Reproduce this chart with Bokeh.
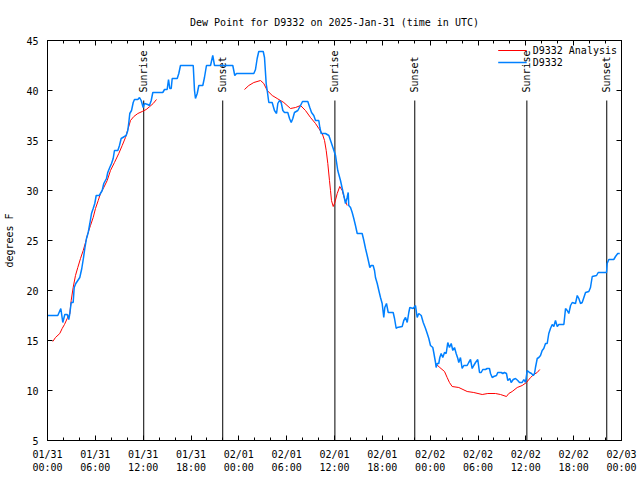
import math
from bokeh.plotting import figure
from bokeh.models import Range1d, FixedTicker, LinearAxis, Legend, LegendItem, CustomJSTickFormatter
from bokeh.core.properties import value
from bokeh.embed import file_html
from bokeh.resources import INLINE

NAN = float("nan")

# ---- data (hours since 2025-01-31 00:00 UTC) ----
obs_hours = [0.00, 1.29, 1.67, 1.92, 2.17, 2.47, 2.67, 2.80, 2.97, 3.22, 3.35, 3.55, 3.80, 4.05, 4.30,
             4.52, 4.68, 4.89, 5.11, 5.31, 5.52, 5.73, 5.93, 6.11, 6.49, 6.86, 7.06, 7.40, 7.56, 7.81,
             8.03, 8.24, 8.40, 8.82, 9.03, 9.24, 9.66, 9.87, 10.07, 10.20, 10.32, 10.54, 10.75, 10.91,
             11.33, 11.54, 11.75, 12.00, 12.17, 12.58, 12.79, 13.01, 13.21, 14.46, 14.68, 15.01, 15.18,
             15.34, 15.52, 15.64, 16.27, 16.47, 16.68, 18.28, 18.44, 18.56, 18.78, 18.98, 19.48, 19.69,
             19.94, 20.45, 20.73, 20.95, 23.24, 23.49, 23.71, 25.88, 26.09, 26.30, 26.50, 27.06, 27.22,
             27.43, 27.56, 27.76, 28.18, 28.47, 28.73, 28.89, 29.10, 29.31, 29.52, 29.73, 30.14, 30.36,
             30.57, 30.77, 30.98, 31.40, 31.74, 31.99, 32.65, 32.90, 33.12, 33.40, 33.62, 34.03, 34.16,
             34.33, 34.87, 35.29, 35.59, 35.84, 36.13, 36.41, 36.75, 36.97, 37.25, 37.38, 37.59, 37.72,
             37.79, 38.01, 38.22, 38.42, 38.63, 38.85, 39.47, 39.68, 39.89, 40.10, 40.30, 40.43, 40.60,
             40.85, 41.02, 41.14, 41.36, 41.56, 41.77, 41.98, 42.18, 42.31, 42.52, 42.74, 43.36, 43.53,
             43.74, 43.86, 44.49, 44.69, 44.91, 45.12, 45.32, 45.45, 45.87, 46.16, 46.37, 46.57, 46.88,
             47.13, 47.42, 47.63, 47.83, 48.04, 48.33, 48.45, 48.67, 48.75, 48.88, 49.08, 49.21, 49.38,
             49.58, 49.80, 50.01, 50.21, 50.42, 50.64, 50.84, 51.05, 51.26, 51.47, 51.59, 51.80, 52.01,
             52.22, 52.64, 52.84, 53.06, 53.27, 53.47, 53.69, 53.97, 54.19, 54.40, 54.60, 54.94, 55.15,
             55.44, 55.57, 55.78, 55.98, 56.32, 56.48, 56.91, 57.11, 57.32, 57.57, 57.74, 57.99, 58.16,
             58.42, 58.70, 58.99, 59.21, 59.54, 59.75, 59.96, 60.17, 60.46, 60.71, 60.93, 61.09, 61.21,
             61.43, 61.63, 61.84, 62.05, 62.25, 62.47, 62.68, 62.88, 63.09, 63.31, 63.51, 63.72, 63.94,
             64.14, 64.77, 64.98, 65.19, 65.39, 65.61, 65.82, 66.23, 66.45, 66.65, 66.86, 67.07, 67.28,
             67.49, 67.90, 68.11, 68.33, 68.87, 69.08, 70.12, 70.20, 70.41, 71.03, 71.25, 71.53, 71.78]
obs_dewpt = [17.5, 17.5, 18.2, 16.8, 17.6, 17.6, 17.1, 17.7, 18.8, 18.8, 20.3, 20.7, 21.0, 21.3, 22.2,
             23.3, 24.2, 25.2, 25.8, 26.7, 27.7, 28.2, 28.7, 29.5, 29.5, 30.0, 30.7, 31.2, 31.8, 32.3,
             32.7, 33.2, 34.0, 34.0, 34.5, 35.2, 35.4, 35.5, 36.0, 36.8, 37.7, 38.0, 38.8, 39.1,
             39.1, 39.3, 39.0, 38.3, 38.7, 38.6, 38.5, 39.0, 39.8, 39.8, 40.1, 40.1, 41.1,
             40.2, 40.2, 41.2, 41.2, 41.7, 42.5, 42.5, 40.0, 39.2, 39.7, 40.5, 40.5, 41.3,
             42.5, 42.5, 43.5, 42.5, 42.5, 41.5, 41.7, 41.7, 42.1, 43.2, 43.9, 43.9, 43.3,
             40.7, 40.0, 38.8, 38.8, 38.0, 37.7, 38.7, 39.0, 38.8, 38.0, 37.8, 37.8, 37.2,
             36.8, 37.2, 37.8, 38.0, 38.5, 38.9, 38.9, 38.3, 37.8, 37.5, 37.0, 37.0, 36.3,
             35.7, 35.7, 35.5, 34.8, 34.2, 33.5, 32.0, 31.0, 30.2, 29.2, 28.7, 29.3, 29.8,
             28.5, 28.3, 27.8, 27.2, 26.5, 25.7, 25.7, 25.0, 24.2, 23.5, 22.8, 22.3, 22.5,
             22.5, 22.0, 21.3, 20.7, 20.0, 19.3, 18.7, 17.3, 18.3, 18.7, 17.8, 17.8, 17.2,
             16.2, 16.3, 16.4, 17.0, 17.3, 16.8, 17.8, 18.3, 18.2, 18.5, 17.3, 17.7, 17.5,
             16.8, 16.2, 15.7, 15.2, 14.5, 14.3, 13.8, 12.8, 12.3, 12.7, 12.7, 13.3, 13.7,
             13.3, 13.8, 13.7, 14.8, 14.3, 14.7, 14.0, 14.3, 13.7, 13.2, 12.8, 13.3, 12.2,
             12.5, 12.5, 12.8, 13.1, 12.2, 12.5, 12.8, 13.1, 11.8, 11.8, 12.1, 12.1, 12.2,
             12.2, 11.7, 11.3, 11.4, 11.5, 11.8, 11.8, 11.7, 11.8, 11.7, 11.0, 11.2, 10.8,
             11.1, 11.2, 11.0, 10.8, 10.8, 11.1, 10.8, 12.0, 11.8, 11.7, 11.5, 11.7, 12.3,
             13.2, 13.3, 13.5, 14.0, 14.2, 14.7, 14.7, 15.7, 16.2, 16.6, 16.4, 17.0, 16.4,
             16.6, 16.6, 18.2, 18.0, 17.7, 18.5, 18.8, 18.7, 19.5, 19.2, 18.7, 18.8, 19.3,
             19.8, 19.9, 20.3, 21.4, 21.5, 21.8, 21.8, 22.7, 23.1, 23.1, 23.4, 23.7, 23.7]

ana_hours = [0.66, 1.00, 1.54, 1.84, 2.13, 2.47, 2.67, 2.80, 2.97, 3.22, 3.51, 3.80, 4.14, 4.48, 4.77,
             5.06, 5.39, 5.73, 6.02, 6.36, 6.65, 7.06, 7.49, 7.90, 8.40, 8.94, 9.37, 9.78, 10.12, 10.41,
             10.83, 11.33, 11.88, 12.38, 12.83, 13.26, 13.67, NAN,
             24.71, 25.25, 25.88, 26.72, 27.13, 27.56, 28.19, 28.81, 29.64, 30.48, 31.11, 31.74, 32.36,
             32.99, 33.62, 34.03, 34.46, 34.75, 34.96, 35.16, 35.37, 35.50, 35.62, 35.84, 36.04, 36.34,
             36.66, 36.97, 37.25, 37.59, NAN,
             48.67, 49.21, 49.80, 50.13, 50.42, 50.76, 51.59, 52.64, 53.47, 54.53, 55.23, 56.19, 56.82,
             57.57, 57.86, 58.29, 58.92, 59.54, 60.08, 60.59, 61.00, 61.43, 61.75]
ana_dewpt = [14.9, 15.3, 15.7, 16.2, 16.6, 17.2, 17.5, 17.7, 19.0, 20.3, 21.5, 22.3, 23.2, 24.0, 24.8,
             25.7, 26.5, 27.3, 28.2, 29.0, 29.7, 30.3, 31.0, 32.0, 32.8, 33.7, 34.5, 35.3, 36.2, 37.0,
             37.4, 37.7, 37.9, 38.1, 38.4, 38.7, 39.1, NAN,
             40.1, 40.5, 40.8, 41.0, 40.7, 40.0, 39.5, 39.2, 38.8, 38.2, 38.3, 38.5, 38.0,
             37.3, 36.7, 36.2, 35.7, 35.0, 34.0, 32.7, 31.0, 30.0, 29.0, 28.4, 28.8, 29.7,
             30.4, 30.0, 29.2, 28.5, NAN,
             12.7, 12.3, 11.9, 11.3, 10.8, 10.4, 10.3, 9.9, 9.8, 9.6, 9.7, 9.7, 9.6,
             9.4, 9.7, 9.9, 10.3, 10.5, 10.8, 11.3, 11.6, 11.8, 12.1]

sun_hours = [12.07, 21.98, 36.05, 46.07, 60.13, 70.15]
sun_labels = ["Sunrise", "Sunset", "Sunrise", "Sunset", "Sunrise", "Sunset"]

x_tick_hours = [0, 6, 12, 18, 24, 30, 36, 42, 48, 54, 60, 66, 72]
x_tick_labels = ["01/31\n00:00", "01/31\n06:00", "01/31\n12:00", "01/31\n18:00",
                 "02/01\n00:00", "02/01\n06:00", "02/01\n12:00", "02/01\n18:00",
                 "02/02\n00:00", "02/02\n06:00", "02/02\n12:00", "02/02\n18:00",
                 "02/03\n00:00"]
x_minor_hours = list(range(0, 73, 2))
y_ticks = [5, 10, 15, 20, 25, 30, 35, 40, 45]

FONT = "DejaVu Sans Mono"
FS = "10px"
Y0, Y1 = 5, 45
line_top = Y0 + 0.85 * (Y1 - Y0)
label_base = Y0 + 0.87 * (Y1 - Y0)

p = figure(width=640, height=480, output_backend="svg", toolbar_location=None,
           x_range=Range1d(0, 72), y_range=Range1d(Y0, Y1),
           min_border_left=47, min_border_right=19, min_border_top=40, min_border_bottom=40,
           title="Dew Point for D9332 on 2025-Jan-31 (time in UTC)")
p.background_fill_color = "white"
p.border_fill_color = "white"
p.outline_line_color = "black"
p.outline_line_width = 1
p.outline_line_alpha = 1
p.grid.visible = False

p.title.align = "center"
p.title.text_font = FONT
p.title.text_font_size = FS
p.title.text_font_style = "normal"
p.title.text_color = "black"
p.title.standoff = 26

xt = FixedTicker(ticks=x_tick_hours, minor_ticks=x_minor_hours)
yt = FixedTicker(ticks=y_ticks, minor_ticks=[])

def style_axis(ax, show_labels):
    ax.axis_line_color = "black"
    ax.major_tick_line_color = "black"
    ax.minor_tick_line_color = "black"
    ax.major_tick_in = 5
    ax.major_tick_out = 0
    ax.minor_tick_in = 3
    ax.minor_tick_out = 0
    ax.major_label_text_font = FONT
    ax.major_label_text_color = "black"
    ax.major_label_text_font_size = FS
    if not show_labels:
        ax.formatter = CustomJSTickFormatter(code="return '';")
        ax.major_label_standoff = 0

p.xaxis.ticker = xt
p.xaxis.major_label_overrides = {h: lab for h, lab in zip(x_tick_hours, x_tick_labels)}
style_axis(p.xaxis[0], True)
p.xaxis.major_label_standoff = 8

p.yaxis.ticker = yt
style_axis(p.yaxis[0], True)
p.yaxis.major_label_standoff = 9
p.yaxis.axis_label = "degrees F"
p.yaxis.axis_label_text_font = FONT
p.yaxis.axis_label_text_font_size = FS
p.yaxis.axis_label_text_font_style = "normal"
p.yaxis.axis_label_text_color = "black"
p.yaxis.axis_label_standoff = 8

top_ax = LinearAxis(ticker=xt)
style_axis(top_ax, False)
p.add_layout(top_ax, "above")
right_ax = LinearAxis(ticker=yt)
style_axis(right_ax, False)
p.add_layout(right_ax, "right")

# sunrise / sunset markers
n = len(sun_hours)
p.segment(x0=sun_hours, y0=[Y0] * n, x1=sun_hours, y1=[line_top] * n,
          line_color="black", line_width=1)
p.text(x=sun_hours, y=[label_base] * n, text=sun_labels, angle=math.pi / 2,
       text_align="left", text_baseline="middle", text_font=value(FONT),
       text_font_size=FS, text_color="black")

r_ana = p.line(ana_hours, ana_dewpt, line_color="#ff0000", line_width=1)
r_obs = p.line(obs_hours, obs_dewpt, line_color="#0080ff", line_width=1.5)

legend = Legend(items=[LegendItem(label="D9332 Analysis", renderers=[r_ana]),
                       LegendItem(label="D9332", renderers=[r_obs])],
                location="top_right")
legend.border_line_alpha = 0
legend.background_fill_alpha = 0
legend.label_text_font = FONT
legend.label_text_font_size = FS
legend.label_text_color = "black"
legend.glyph_width = 29
legend.glyph_height = 12
legend.label_height = 12
legend.label_standoff = 6
legend.spacing = 0
legend.padding = 2
legend.margin = 2
p.add_layout(legend)

open("out.html", "w").write(file_html(p, INLINE))
